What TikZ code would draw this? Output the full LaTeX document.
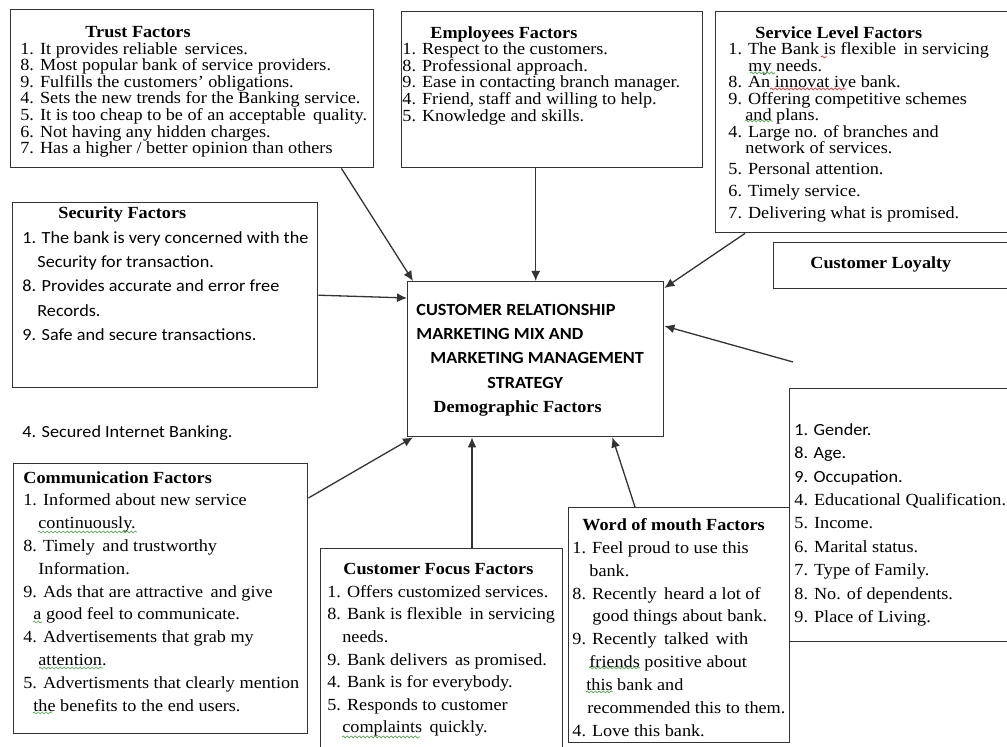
\documentclass[tikz,border=0pt]{standalone}
\usepackage{fontspec}
\setmainfont[FakeStretch=1.07]{Liberation Serif}
\newfontfamily\calib[FakeStretch=1.07]{Carlito}
\usetikzlibrary{arrows.meta,positioning,decorations.pathmorphing}
\definecolor{edge}{HTML}{333333}
\definecolor{sqgreen}{HTML}{4CA64C}
\definecolor{sqred}{HTML}{E03030}
\tikzset{
  fbox/.style={draw=edge, line width=0.7pt, rectangle, inner sep=0pt, anchor=north west},
  ftxt/.style={anchor=north west, inner sep=0pt, align=left},
  link/.style={draw=edge, line width=0.65pt, -{Latex[length=5pt,width=4.5pt]}},
  squig/.style={decorate, decoration={snake, amplitude=0.5pt, segment length=2pt}, line width=0.35pt}
}
\begin{document}
\begin{tikzpicture}[x=0.5pt,y=-0.5pt]
\useasboundingbox (0,0) rectangle (1007,747);

% frames
\node[fbox, minimum width=181.5pt, minimum height=79pt]  (trust) at (10,9) {};
\node[fbox, minimum width=150.5pt, minimum height=78pt]  (emp)   at (401,11) {};
\node[fbox, minimum width=148.5pt, minimum height=110.5pt] (serv) at (715,11) {};
\node[fbox, minimum width=119.5pt, minimum height=23pt]  (loyal) at (773,242) {};
\node[fbox, minimum width=152.5pt, minimum height=92.5pt] (sec)  at (12,202) {};
\node[fbox, minimum width=128pt,   minimum height=77.5pt] (ctr)  at (407,281) {};
\node[fbox, minimum width=147pt,   minimum height=135pt] (comm)  at (13,463) {};
\node[fbox, minimum width=121pt,   minimum height=103.5pt] (focus) at (320,548) {};
\node[fbox, minimum width=110.5pt, minimum height=117.5pt] (word) at (568,507) {};
\node[fbox, minimum width=111.5pt, minimum height=126.5pt] (demo) at (789,388) {};

% texts
\node[ftxt, font=\fontsize{8.5}{8.3}\selectfont] (trusttxt) at (20,26) {%
\hspace*{32.5pt}\textbf{Trust Factors}\\
1. It provides reliable\, services.\\
8. Most popular bank of service providers.\\
9. Fulfills the customers' obligations.\\
4. Sets the new trends for the Banking service.\\
5. It is too cheap to be of an acceptable\, quality.\\
6. Not having any hidden charges.\\
7. Has a higher / better opinion than others};

\node[ftxt, font=\fontsize{8.5}{8.3}\selectfont] (emptxt) at (402,26) {%
\hspace*{14pt}\textbf{Employees Factors}\\
1. Respect to the customers.\\
8. Professional approach.\\
9. Ease in contacting branch manager.\\
4. Friend, staff and willing to help.\\
5. Knowledge and skills.};

\node[ftxt, font=\fontsize{8.5}{8.25}\selectfont] (servtxt) at (728,26) {%
\hspace*{13.5pt}\textbf{Service Level Factors}\\
1. The Bank is flexible\, in servicing\\
\hspace*{10pt}my needs.\\
8. An innovat ive bank.\\
9. Offering competitive schemes\\
\hspace*{8.5pt}and plans.\\
4. Large no. of branches and\\
\hspace*{8.5pt}network of services.\\[2.25pt]
5. Personal attention.\\[2.75pt]
6. Timely service.\\[2.75pt]
7. Delivering what is promised.};

\node[ftxt, font=\fontsize{8.5}{8.5}\selectfont] (loyaltxt) at (810,256) {\textbf{Customer Loyalty}};

\node[ftxt, font=\fontsize{8.5}{12.2}\selectfont] (sectxt) at (22,206) {%
\hspace*{18pt}\textbf{Security Factors}\\[0.3pt]
\calib 1. The bank is very concerned with the\\
\calib\hspace*{7.5pt}Security for transaction.\\
\calib 8. Provides accurate and error free\\
\calib\hspace*{7.5pt}Records.\\
\calib 9. Safe and secure transactions.};

\node[ftxt, font=\calib\fontsize{8.5}{10}\selectfont] (inet) at (22,425) {4. Secured Internet Banking.};

\node[ftxt, font=\fontsize{8.5}{12.1}\selectfont] (ctrtxt) at (416,304) {%
\calib\textbf{CUSTOMER RELATIONSHIP}\\
\calib\textbf{MARKETING MIX AND}\\
\calib\hspace*{7pt}\textbf{MARKETING MANAGEMENT}\\
\calib\hspace*{35.5pt}\textbf{STRATEGY}\\
\hspace*{8.5pt}\textbf{Demographic Factors}};

\node[ftxt, font=\fontsize{8.5}{11.4}\selectfont] (commtxt) at (23,471) {%
\textbf{Communication Factors}\\
1. Informed about new service\\
\hspace*{7.5pt}continuously.\\
8. Timely\, and trustworthy\\
\hspace*{7.5pt}Information.\\
9. Ads that are attractive\, and give\\
\hspace*{5pt}a good feel to communicate.\\
4. Advertisements that grab my\\
\hspace*{7.5pt}attention.\\
5. Advertisments that clearly mention\\
\hspace*{5pt}the benefits to the end users.};

\node[ftxt, font=\fontsize{8.5}{11.3}\selectfont] (focustxt) at (327,563) {%
\hspace*{8pt}\textbf{Customer Focus Factors}\\
1. Offers customized services.\\
8. Bank is flexible\, in servicing\\
\hspace*{7.5pt}needs.\\
9. Bank delivers\, as promised.\\
4. Bank is for everybody.\\
5. Responds to customer\\
\hspace*{7.5pt}complaints\, quickly.};

\node[ftxt, font=\fontsize{8.5}{11.45}\selectfont] (wordtxt) at (572,518) {%
\hspace*{5pt}\textbf{Word of mouth Factors}\\
1. Feel proud to use this\\
\hspace*{8.5pt}bank.\\
8. Recently\, heard a lot of\\
\hspace*{10pt}good things about bank.\\
9. Recently\, talked\, with\\
\hspace*{8.5pt}friends positive about\\
\hspace*{7pt}this bank and\\
\hspace*{7.5pt}recommended this to them.\\
4. Love this bank.};

\node[ftxt, font=\fontsize{8.5}{11.7}\selectfont] (demotxt) at (794,423) {%
\calib 1. Gender.\\
\calib 8. Age.\\
\calib 9. Occupation.\\
4. Educational Qualification.\\
5. Income.\\
6. Marital status.\\
7. Type of Family.\\
8. No. of dependents.\\
9. Place of Living.};

% connectors
\coordinate (dfree) at (793,362);
\draw[link] ([xshift=-16.5pt]trust.south east) -- ([xshift=3pt]ctr.north west);
\draw[link] (sec.east) -- ([yshift=-8.5pt]ctr.north west);
\draw[link] (emp.south -| ctr.north) -- (ctr.north);
\draw[link] ([xshift=15pt]serv.south west) -- ([yshift=-3.5pt]ctr.north east);
\draw[link] (dfree) -- ([yshift=-22.5pt]ctr.north east);
\draw[link] ([yshift=-17.5pt]comm.north east) -- ([xshift=3pt]ctr.south west);
\draw[link] ([xshift=76pt]focus.north west) -- ([xshift=32.5pt]ctr.south west);
\draw[link] ([xshift=33.5pt]word.north west) -- ([xshift=-26pt]ctr.south east);

% spelling marks
\draw[squig, sqgreen] (750,73) -- (775,73);
\draw[squig, sqred] (770,89) -- (846,89);
\draw[squig, sqred] (821,57) -- (827,57);
\draw[squig, sqgreen] (745,121) -- (773,121);
\draw[squig, sqgreen] (38,532) -- (137,532);
\draw[squig, sqgreen] (33,622) -- (42,622);
\draw[squig, sqgreen] (39,668) -- (103,668);
\draw[squig, sqgreen] (33,713) -- (52,713);
\draw[squig, sqgreen] (342,737) -- (420,737);
\draw[squig, sqgreen] (589,668) -- (640,668);
\draw[squig, sqgreen] (586,692) -- (613,692);
\end{tikzpicture}
\end{document}
